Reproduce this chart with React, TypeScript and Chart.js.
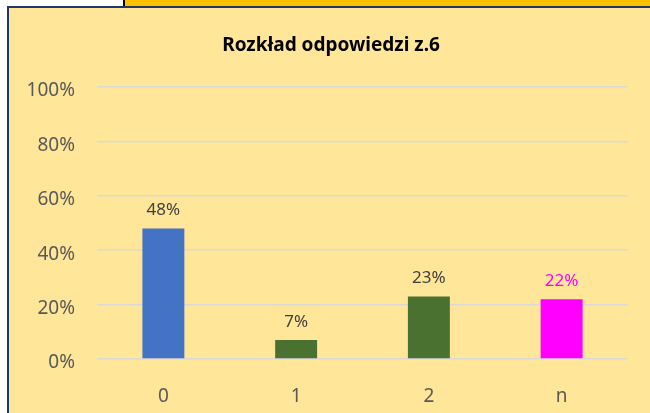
import React, { useEffect, useRef } from "react";
import { Chart, registerables } from "chart.js";

Chart.register(...registerables);

const TITLE = "Rozkład odpowiedzi z.6";
const CATEGORIES = ["0", "1", "2", "n"];
const VALUES = [48, 7, 23, 22];
const BAR_COLORS = ["#4472C4", "#4B7130", "#4B7130", "#FF00FF"];
const LABEL_COLORS = ["#404040", "#404040", "#404040", "#FF00FF"];
const Y_TICKS = [0, 20, 40, 60, 80, 100];

const FONT = "'Noto Sans', 'DejaVu Sans', sans-serif";

const titlePlugin = {
  id: "customTitle",
  afterDraw(chart: any) {
    const ctx = chart.ctx;
    ctx.save();
    ctx.font = `bold 19px ${FONT}`;
    ctx.fillStyle = "#000000";
    ctx.textAlign = "center";
    ctx.textBaseline = "middle";
    ctx.fillText(TITLE, 331, 46);
    ctx.restore();
  },
};

const dataLabelPlugin = {
  id: "dataLabels",
  afterDatasetsDraw(chart: any) {
    const ctx = chart.ctx;
    const meta = chart.getDatasetMeta(0);
    ctx.save();
    ctx.font = `17px ${FONT}`;
    ctx.textAlign = "center";
    ctx.textBaseline = "alphabetic";
    meta.data.forEach((bar: any, i: number) => {
      ctx.fillStyle = LABEL_COLORS[i];
      ctx.fillText(VALUES[i] + "%", bar.x, bar.y - 13);
    });
    ctx.restore();
  },
};

export default function App() {
  const ref = useRef<HTMLCanvasElement | null>(null);

  useEffect(() => {
    if (!ref.current) return;
    const chart = new Chart(ref.current, {
      type: "bar",
      data: {
        labels: CATEGORIES,
        datasets: [
          {
            data: VALUES,
            backgroundColor: BAR_COLORS,
            borderWidth: 0,
            categoryPercentage: 1,
            barPercentage: 0.316,
          },
        ],
      },
      options: {
        responsive: false,
        animation: false,
        layout: { padding: { top: 87, right: 22, bottom: 0, left: 0 } },
        plugins: {
          legend: { display: false },
          title: { display: false },
          tooltip: { enabled: false },
        },
        scales: {
          x: {
            grid: { display: false, drawTicks: false },
            border: { display: false },
            ticks: {
              color: "#595959",
              font: { family: FONT, size: 19 },
              padding: 26,
            },
            afterFit: (scale: any) => {
              scale.height = 54;
            },
          },
          y: {
            min: 0,
            max: 100,
            afterBuildTicks: (scale: any) => {
              scale.ticks = Y_TICKS.map((v) => ({ value: v }));
            },
            grid: { color: "#D9D9D9", lineWidth: 1.5, drawTicks: false },
            border: { display: false },
            ticks: {
              color: "#595959",
              font: { family: FONT, size: 19 },
              padding: 22,
              labelOffset: 4,
              callback: (v: any) => v + "%",
            },
            afterFit: (scale: any) => {
              scale.width = 97;
            },
          },
        },
      },
      plugins: [titlePlugin, dataLabelPlugin],
    });
    return () => chart.destroy();
  }, []);

  return (
    <div
      style={{
        position: "absolute",
        left: 0,
        top: 0,
        width: 650,
        height: 413,
        background: "#FFFFFF",
        overflow: "hidden",
      }}
    >
      <div style={{ position: "absolute", left: 125, top: 0, width: 525, height: 6, background: "#FFC000" }} />
      <div style={{ position: "absolute", left: 123, top: 0, width: 2, height: 6, background: "#000000" }} />
      <div style={{ position: "absolute", left: 7, top: 6, width: 643, height: 2, background: "#1F3864" }} />
      <div style={{ position: "absolute", left: 7, top: 6, width: 2, height: 407, background: "#1F3864" }} />
      <div style={{ position: "absolute", left: 9, top: 8, width: 641, height: 405, background: "#FFE699" }} />
      <canvas
        ref={ref}
        width={650}
        height={413}
        style={{ position: "absolute", left: 0, top: 0, width: 650, height: 413 }}
      />
    </div>
  );
}
